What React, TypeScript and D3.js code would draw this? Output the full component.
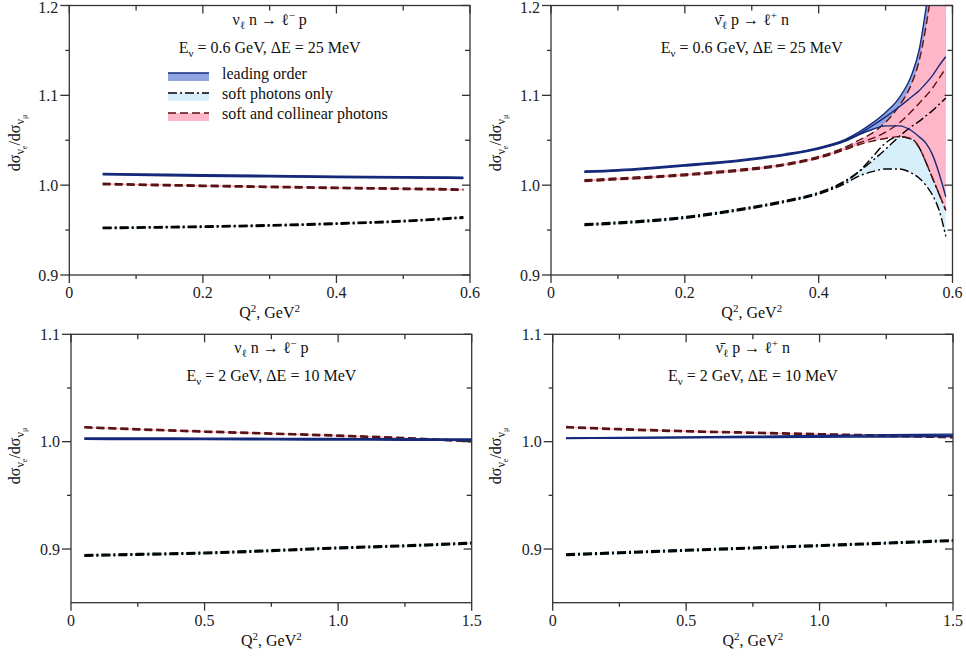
import React from "react";
import * as d3 from "d3";

// ---------- data: ratio dσ(νe)/dσ(νμ) vs Q² ----------
// Each series: lower edge, central curve, upper edge of the uncertainty band.

// Eν = 0.6 GeV, ΔE = 25 MeV, neutrino
const tlQ2 = [0.05, 0.1, 0.2, 0.3, 0.4, 0.5, 0.59];
const tlLeadLo = [1.0115, 1.011, 1.01, 1.0092, 1.0085, 1.0079, 1.0074];
const tlLeadMid = [1.0123, 1.0118, 1.0108, 1.01, 1.0093, 1.0087, 1.0082];
const tlLeadHi = [1.0131, 1.0126, 1.0116, 1.0108, 1.0101, 1.0095, 1.009];
const tlSoftLo = [0.9516, 0.952, 0.953, 0.9544, 0.9564, 0.9592, 0.9632];
const tlSoftMid = [0.9524, 0.9528, 0.9538, 0.9552, 0.9572, 0.96, 0.964];
const tlSoftHi = [0.9532, 0.9536, 0.9546, 0.956, 0.958, 0.9608, 0.9648];
const tlCollLo = [1.0005, 0.9998, 0.9985, 0.9973, 0.9962, 0.9952, 0.9942];
const tlCollMid = [1.0013, 1.0006, 0.9993, 0.9981, 0.997, 0.996, 0.995];
const tlCollHi = [1.0021, 1.0014, 1.0001, 0.9989, 0.9978, 0.9968, 0.9958];

// Eν = 0.6 GeV, ΔE = 25 MeV, antineutrino
const trQ2 = [0.05, 0.1, 0.15, 0.2, 0.25, 0.3, 0.35, 0.4, 0.44, 0.46, 0.48, 0.5, 0.52, 0.54, 0.55, 0.56, 0.57, 0.58, 0.59];
const trLeadLo = [1.0142, 1.0157, 1.0182, 1.0212, 1.0242, 1.0282, 1.0332, 1.0402, 1.049, 1.056, 1.062, 1.066, 1.066, 1.06, 1.054, 1.047, 1.034, 1.013, 0.987];
const trLeadMid = [1.015, 1.0165, 1.019, 1.022, 1.025, 1.029, 1.034, 1.041, 1.05, 1.057, 1.066, 1.076, 1.087, 1.099, 1.105, 1.113, 1.122, 1.133, 1.143];
const trLeadHi = [1.0158, 1.0173, 1.0198, 1.0228, 1.0258, 1.0298, 1.0348, 1.0418, 1.051, 1.059, 1.069, 1.081, 1.097, 1.125, 1.15, 1.195, 1.25, 1.32, 1.4];
const trSoftLo = [0.955, 0.957, 0.9595, 0.963, 0.968, 0.974, 0.981, 0.99, 1.002, 1.01, 1.015, 1.018, 1.018, 1.013, 1.008, 1.0, 0.989, 0.972, 0.943];
const trSoftMid = [0.956, 0.958, 0.9605, 0.964, 0.969, 0.975, 0.982, 0.991, 1.004, 1.015, 1.031, 1.047, 1.054, 1.051, 1.042, 1.026, 1.008, 0.99, 0.972];
const trSoftHi = [0.957, 0.959, 0.9615, 0.965, 0.97, 0.976, 0.983, 0.992, 1.005, 1.015, 1.027, 1.04, 1.054, 1.066, 1.071, 1.077, 1.083, 1.09, 1.097];
const trCollLo = [1.004, 1.006, 1.008, 1.0105, 1.0135, 1.017, 1.022, 1.03, 1.0395, 1.045, 1.049, 1.052, 1.054, 1.051, 1.042, 1.026, 1.008, 0.99, 0.972];
const trCollMid = [1.005, 1.007, 1.009, 1.0115, 1.0145, 1.018, 1.023, 1.031, 1.041, 1.047, 1.052, 1.059, 1.069, 1.083, 1.091, 1.099, 1.108, 1.119, 1.13];
const trCollHi = [1.006, 1.008, 1.01, 1.0125, 1.0155, 1.019, 1.024, 1.032, 1.0425, 1.05, 1.058, 1.07, 1.088, 1.115, 1.138, 1.175, 1.225, 1.29, 1.36];

// Eν = 2 GeV, ΔE = 10 MeV, neutrino
const blQ2 = [0.05, 0.25, 0.5, 0.75, 1.0, 1.25, 1.5];
const blLeadLo = [1.0021, 1.002, 1.0019, 1.0017, 1.0015, 1.0013, 1.0011];
const blLeadMid = [1.0028, 1.0027, 1.0026, 1.0024, 1.0022, 1.002, 1.0018];
const blLeadHi = [1.0035, 1.0034, 1.0033, 1.0031, 1.0029, 1.0027, 1.0025];
const blSoftLo = [0.8932, 0.8942, 0.8955, 0.8977, 0.9002, 0.9022, 0.9047];
const blSoftMid = [0.894, 0.895, 0.8963, 0.8985, 0.901, 0.903, 0.9055];
const blSoftHi = [0.8948, 0.8958, 0.8971, 0.8993, 0.9018, 0.9038, 0.9063];
const blCollLo = [1.0128, 1.0109, 1.0088, 1.0069, 1.005, 1.0026, 0.9998];
const blCollMid = [1.0134, 1.0115, 1.0094, 1.0075, 1.0056, 1.0032, 1.0004];
const blCollHi = [1.014, 1.0121, 1.01, 1.0081, 1.0062, 1.0038, 1.001];

// Eν = 2 GeV, ΔE = 10 MeV, antineutrino
const brQ2 = [0.05, 0.25, 0.5, 0.75, 1.0, 1.25, 1.5];
const brLeadLo = [1.003, 1.0032, 1.0035, 1.0038, 1.0041, 1.0044, 1.0047];
const brLeadMid = [1.0032, 1.0035, 1.0039, 1.0044, 1.0049, 1.0054, 1.0058];
const brLeadHi = [1.0035, 1.0039, 1.0044, 1.005, 1.0057, 1.0064, 1.007];
const brSoftLo = [0.8939, 0.8957, 0.898, 0.9002, 0.9024, 0.9047, 0.9071];
const brSoftMid = [0.8947, 0.8965, 0.8988, 0.901, 0.9032, 0.9055, 0.9079];
const brSoftHi = [0.8955, 0.8973, 0.8996, 0.9018, 0.904, 0.9063, 0.9087];
const brCollLo = [1.0129, 1.011, 1.0091, 1.0077, 1.0063, 1.0049, 1.0036];
const brCollMid = [1.0135, 1.0116, 1.0097, 1.0083, 1.0069, 1.0055, 1.0042];
const brCollHi = [1.0141, 1.0122, 1.0103, 1.0089, 1.0075, 1.0061, 1.0048];

// axis ticks
const xTicksLow = [0, 0.2, 0.4, 0.6];
const xMinorLow = [0.1, 0.3, 0.5];
const xTicksHigh = [0, 0.5, 1.0, 1.5];
const xMinorHigh = [0.25, 0.75, 1.25];
const yTicksTop = [0.9, 1.0, 1.1, 1.2];
const yMinorTop = [0.95, 1.05, 1.15];
const yTicksBottom = [0.9, 1.0, 1.1];
const yMinorBottom = [0.95, 1.05];

const legendLabels = ["leading order", "soft photons only", "soft and collinear photons"];

// ---------- styles ----------
const FONT = "'Liberation Serif', 'Times New Roman', serif";
const NAVY = "#14297a";
const LEAD_FILL = "#8fa5e2";
const SOFT_FILL = "#d6effb";
const COLL_FILL = "#ffb6c9";
const DARKRED = "#5a1212";
const AXIS = "#333";

type Part = { t: string; off?: number; size?: number };

function Rich({ x, y, parts, size = 16, anchor = "middle", transform }: { x: number; y: number; parts: Part[]; size?: number; anchor?: string; transform?: string }) {
  let cur = 0;
  return (
    <text x={x} y={y} fontSize={size} textAnchor={anchor} fontFamily={FONT} fill="#111" transform={transform} style={{ whiteSpace: "pre" }}>
      {parts.map((p, i) => {
        const off = p.off || 0;
        const dy = off - cur;
        cur = off;
        return (
          <tspan key={i} dy={dy} fontSize={p.size || size}>
            {p.t}
          </tspan>
        );
      })}
    </text>
  );
}

type Series = { lo: number[]; mid: number[]; hi: number[] };
type PanelSpec = {
  id: string;
  left: number; right: number; top: number; bottom: number;
  xDom: [number, number]; yDom: [number, number];
  xTicks: number[]; xMinor: number[]; yTicks: number[]; yMinor: number[];
  q2: number[];
  lead: Series; soft: Series; coll: Series;
  reaction: Part[];
  kin: Part[];
  legend?: boolean;
  yLabelX: number; yLabelY: number;
};

const nuTitle: Part[] = [
  { t: "ν" }, { t: "ℓ", off: 4, size: 11 }, { t: " n → ℓ" }, { t: "−", off: -6, size: 11 }, { t: " p" },
];
const nubarTitle: Part[] = [
  { t: "ν\u0304" }, { t: "ℓ", off: 4, size: 11 }, { t: " p → ℓ" }, { t: "+", off: -6, size: 11 }, { t: " n" },
];
const kinLow: Part[] = [{ t: "E" }, { t: "ν", off: 4, size: 11 }, { t: " = 0.6 GeV, ΔE = 25 MeV" }];
const kinHigh: Part[] = [{ t: "E" }, { t: "ν", off: 4, size: 11 }, { t: " = 2 GeV, ΔE = 10 MeV" }];
const yLabelParts: Part[] = [
  { t: "dσ" }, { t: "ν", off: 4, size: 12 }, { t: "e", off: 7, size: 8 }, { t: "/dσ" }, { t: "ν", off: 4, size: 12 }, { t: "μ", off: 7, size: 8 },
];
const xLabelParts: Part[] = [{ t: "Q" }, { t: "2", off: -6, size: 11 }, { t: ", GeV" }, { t: "2", off: -6, size: 11 }];

const fmtTick = (v: number) => (v === 0 ? "0" : v.toFixed(1));

function Panel({ p }: { p: PanelSpec }) {
  const x = d3.scaleLinear().domain(p.xDom).range([p.left, p.right]);
  const y = d3.scaleLinear().domain(p.yDom).range([p.bottom, p.top]);
  const idx = p.q2.map((_, i) => i);
  const line = (arr: number[]) =>
    d3.line<number>().x((i) => x(p.q2[i])).y((i) => y(arr[i])).curve(d3.curveMonotoneX)(idx) || "";
  const area = (s: Series) =>
    d3.area<number>().x((i) => x(p.q2[i])).y0((i) => y(s.lo[i])).y1((i) => y(s.hi[i])).curve(d3.curveMonotoneX)(idx) || "";
  const clip = `clip-${p.id}`;
  const cx = (p.left + p.right) / 2;
  const lines = (s: Series, stroke: string, dash: string | undefined, w: number) =>
    [s.lo, s.mid, s.hi].map((arr, k) => (
      <path key={k} d={line(arr)} fill="none" stroke={stroke} strokeWidth={w} strokeDasharray={dash} />
    ));
  return (
    <g>
      <defs>
        <clipPath id={clip}>
          <rect x={p.left} y={p.top} width={p.right - p.left} height={p.bottom - p.top} />
        </clipPath>
      </defs>
      <g clipPath={`url(#${clip})`}>
        <path d={area(p.lead)} fill={LEAD_FILL} />
        <path d={area(p.soft)} fill={SOFT_FILL} />
        <path d={area(p.coll)} fill={COLL_FILL} />
        {lines(p.soft, "#000", "9,3,2,3", 1.4)}
        {lines(p.coll, DARKRED, "8,4", 1.4)}
        {lines(p.lead, NAVY, undefined, 1.4)}
      </g>
      {/* frame */}
      <rect x={p.left} y={p.top} width={p.right - p.left} height={p.bottom - p.top} fill="none" stroke={AXIS} strokeWidth={1.3} />
      {/* x ticks: outward at bottom, inward at top */}
      {p.xTicks.map((v) => (
        <g key={"xt" + v}>
          <line x1={x(v)} x2={x(v)} y1={p.bottom} y2={p.bottom + 8} stroke={AXIS} strokeWidth={1.3} />
          <line x1={x(v)} x2={x(v)} y1={p.top} y2={p.top + 8} stroke={AXIS} strokeWidth={1.3} />
          <text x={x(v)} y={p.bottom + 23} fontSize={16} textAnchor="middle" fontFamily={FONT} fill="#222">
            {fmtTick(v)}
          </text>
        </g>
      ))}
      {p.xMinor.map((v) => (
        <g key={"xm" + v}>
          <line x1={x(v)} x2={x(v)} y1={p.bottom} y2={p.bottom + 4} stroke={AXIS} strokeWidth={1.3} />
          <line x1={x(v)} x2={x(v)} y1={p.top} y2={p.top + 5} stroke={AXIS} strokeWidth={1.3} />
        </g>
      ))}
      {/* y ticks: outward at left, inward at right */}
      {p.yTicks.map((v) => (
        <g key={"yt" + v}>
          <line x1={p.left - 9} x2={p.left} y1={y(v)} y2={y(v)} stroke={AXIS} strokeWidth={1.3} />
          <line x1={p.right - 8} x2={p.right} y1={y(v)} y2={y(v)} stroke={AXIS} strokeWidth={1.3} />
          <text x={p.left - 11} y={Math.max(y(v) + 5.5, 13)} fontSize={16} textAnchor="end" fontFamily={FONT} fill="#222">
            {v.toFixed(1)}
          </text>
        </g>
      ))}
      {p.yMinor.map((v) => (
        <g key={"ym" + v}>
          <line x1={p.left - 4} x2={p.left} y1={y(v)} y2={y(v)} stroke={AXIS} strokeWidth={1.3} />
          <line x1={p.right - 5} x2={p.right} y1={y(v)} y2={y(v)} stroke={AXIS} strokeWidth={1.3} />
        </g>
      ))}
      <Rich x={cx} y={p.bottom + 43} parts={xLabelParts} size={16} />
      <Rich x={p.yLabelX} y={p.yLabelY} parts={yLabelParts} size={16} transform={`rotate(-90 ${p.yLabelX} ${p.yLabelY})`} />
      <Rich x={cx} y={p.top + 19} parts={p.reaction} size={16} />
      <Rich x={cx} y={p.top + 47} parts={p.kin} size={16} />
      {p.legend && (
        <g>
          {[
            { fill: LEAD_FILL, stroke: NAVY, dash: undefined as string | undefined },
            { fill: SOFT_FILL, stroke: "#000", dash: "9,3,2,3" },
            { fill: COLL_FILL, stroke: DARKRED, dash: "8,4" },
          ].map((s, i) => {
            const yy = 73 + i * 20;
            return (
              <g key={i}>
                <rect x={168} y={yy} width={41} height={8} fill={s.fill} />
                <line x1={168} x2={209} y1={yy} y2={yy} stroke={s.stroke} strokeWidth={1.6} strokeDasharray={s.dash} />
                <text x={222} y={yy + 6} fontSize={16} fontFamily={FONT} fill="#111">
                  {legendLabels[i]}
                </text>
              </g>
            );
          })}
        </g>
      )}
    </g>
  );
}

const panels: PanelSpec[] = [
  {
    id: "tl", left: 69.3, right: 470, top: 5.5, bottom: 275, xDom: [0, 0.6], yDom: [0.9, 1.2],
    xTicks: xTicksLow, xMinor: xMinorLow, yTicks: yTicksTop, yMinor: yMinorTop, q2: tlQ2,
    lead: { lo: tlLeadLo, mid: tlLeadMid, hi: tlLeadHi },
    soft: { lo: tlSoftLo, mid: tlSoftMid, hi: tlSoftHi },
    coll: { lo: tlCollLo, mid: tlCollMid, hi: tlCollHi },
    reaction: nuTitle, kin: kinLow, legend: true, yLabelX: 20, yLabelY: 143,
  },
  {
    id: "tr", left: 551, right: 952.5, top: 5.5, bottom: 275, xDom: [0, 0.6], yDom: [0.9, 1.2],
    xTicks: xTicksLow, xMinor: xMinorLow, yTicks: yTicksTop, yMinor: yMinorTop, q2: trQ2,
    lead: { lo: trLeadLo, mid: trLeadMid, hi: trLeadHi },
    soft: { lo: trSoftLo, mid: trSoftMid, hi: trSoftHi },
    coll: { lo: trCollLo, mid: trCollMid, hi: trCollHi },
    reaction: nubarTitle, kin: kinLow, yLabelX: 501, yLabelY: 143,
  },
  {
    id: "bl", left: 71, right: 471.7, top: 334.3, bottom: 602.7, xDom: [0, 1.5], yDom: [0.85, 1.1],
    xTicks: xTicksHigh, xMinor: xMinorHigh, yTicks: yTicksBottom, yMinor: yMinorBottom, q2: blQ2,
    lead: { lo: blLeadLo, mid: blLeadMid, hi: blLeadHi },
    soft: { lo: blSoftLo, mid: blSoftMid, hi: blSoftHi },
    coll: { lo: blCollLo, mid: blCollMid, hi: blCollHi },
    reaction: nuTitle, kin: kinHigh, yLabelX: 20, yLabelY: 456,
  },
  {
    id: "br", left: 552.7, right: 953, top: 334.3, bottom: 602.7, xDom: [0, 1.5], yDom: [0.85, 1.1],
    xTicks: xTicksHigh, xMinor: xMinorHigh, yTicks: yTicksBottom, yMinor: yMinorBottom, q2: brQ2,
    lead: { lo: brLeadLo, mid: brLeadMid, hi: brLeadHi },
    soft: { lo: brSoftLo, mid: brSoftMid, hi: brSoftHi },
    coll: { lo: brCollLo, mid: brCollMid, hi: brCollHi },
    reaction: nubarTitle, kin: kinHigh, yLabelX: 501, yLabelY: 456,
  },
];

export default function App() {
  return (
    <svg width={966} height={656} viewBox="0 0 966 656" style={{ position: "absolute", left: 0, top: 0, background: "#fff" }}>
      <rect x={0} y={0} width={966} height={656} fill="#fff" />
      {panels.map((p) => (
        <Panel key={p.id} p={p} />
      ))}
    </svg>
  );
}
